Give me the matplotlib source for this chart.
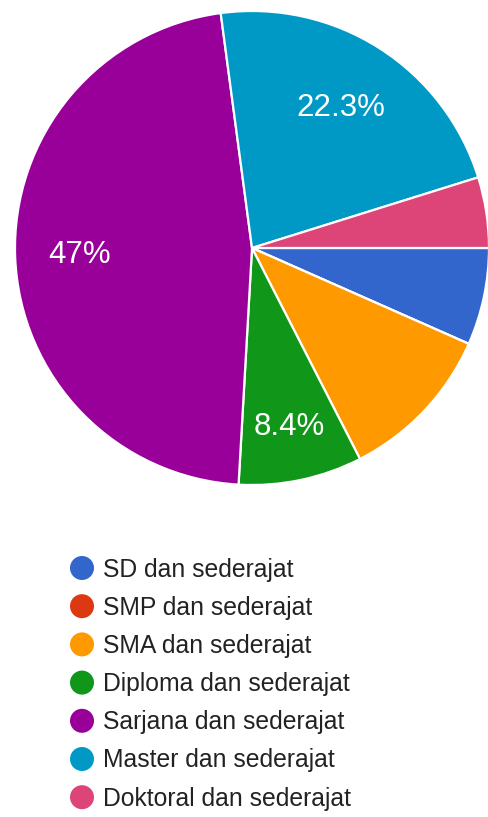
import matplotlib.pyplot as plt
from matplotlib.patches import Circle
import numpy as np

categories = ['SD dan sederajat', 'SMP dan sederajat', 'SMA dan sederajat',
              'Diploma dan sederajat', 'Sarjana dan sederajat',
              'Master dan sederajat', 'Doktoral dan sederajat']
counts = [11, 0, 18, 14, 78, 37, 8]
colors = ['#3366cc', '#dc3912', '#ff9900', '#109618', '#990099', '#0099c6', '#dd4477']
show_label = [False, False, False, True, True, True, False]

plt.rcParams['font.family'] = ['Liberation Sans', 'DejaVu Sans']

W, H = 488, 817
fig = plt.figure(figsize=(W / 100, H / 100), dpi=100)

# pie area: centre (252, 248), radius 237 px
cx, cy, r = 252, 248, 237
ax = fig.add_axes([(cx - r) / W, (H - cy - r) / H, 2 * r / W, 2 * r / H])
wedges, _ = ax.pie(counts, colors=colors, startangle=0, counterclock=False,
                   wedgeprops={'edgecolor': 'white', 'linewidth': 1.6})
ax.set_xlim(-1, 1)
ax.set_ylim(-1, 1)
ax.set_aspect('equal')
ax.axis('off')

total = sum(counts)
label_r = [0.72, 0.72, 0.72, 0.77, 0.73, 0.70, 0.72]
for w, c, s, lr in zip(wedges, counts, show_label, label_r):
    if not s:
        continue
    mid = np.deg2rad((w.theta1 + w.theta2) / 2)
    pct = round(100 * c / total, 1)
    txt = ('%g' % pct) + '%'
    ax.text(lr * np.cos(mid), lr * np.sin(mid), txt, color='white',
            fontsize=22.5, ha='center', va='center')

# legend
lax = fig.add_axes([0, 0, 1, 1])
lax.set_xlim(0, W)
lax.set_ylim(H, 0)
lax.axis('off')
y0, dy = 568, 38.2
for i, (name, col) in enumerate(zip(categories, colors)):
    y = y0 + i * dy
    lax.add_patch(Circle((82, y), 12, color=col, lw=0))
    lax.text(103, y + 1.5, name, fontsize=17.8, color='#222222', ha='left', va='center')

fig.savefig('out.png', dpi=100)
